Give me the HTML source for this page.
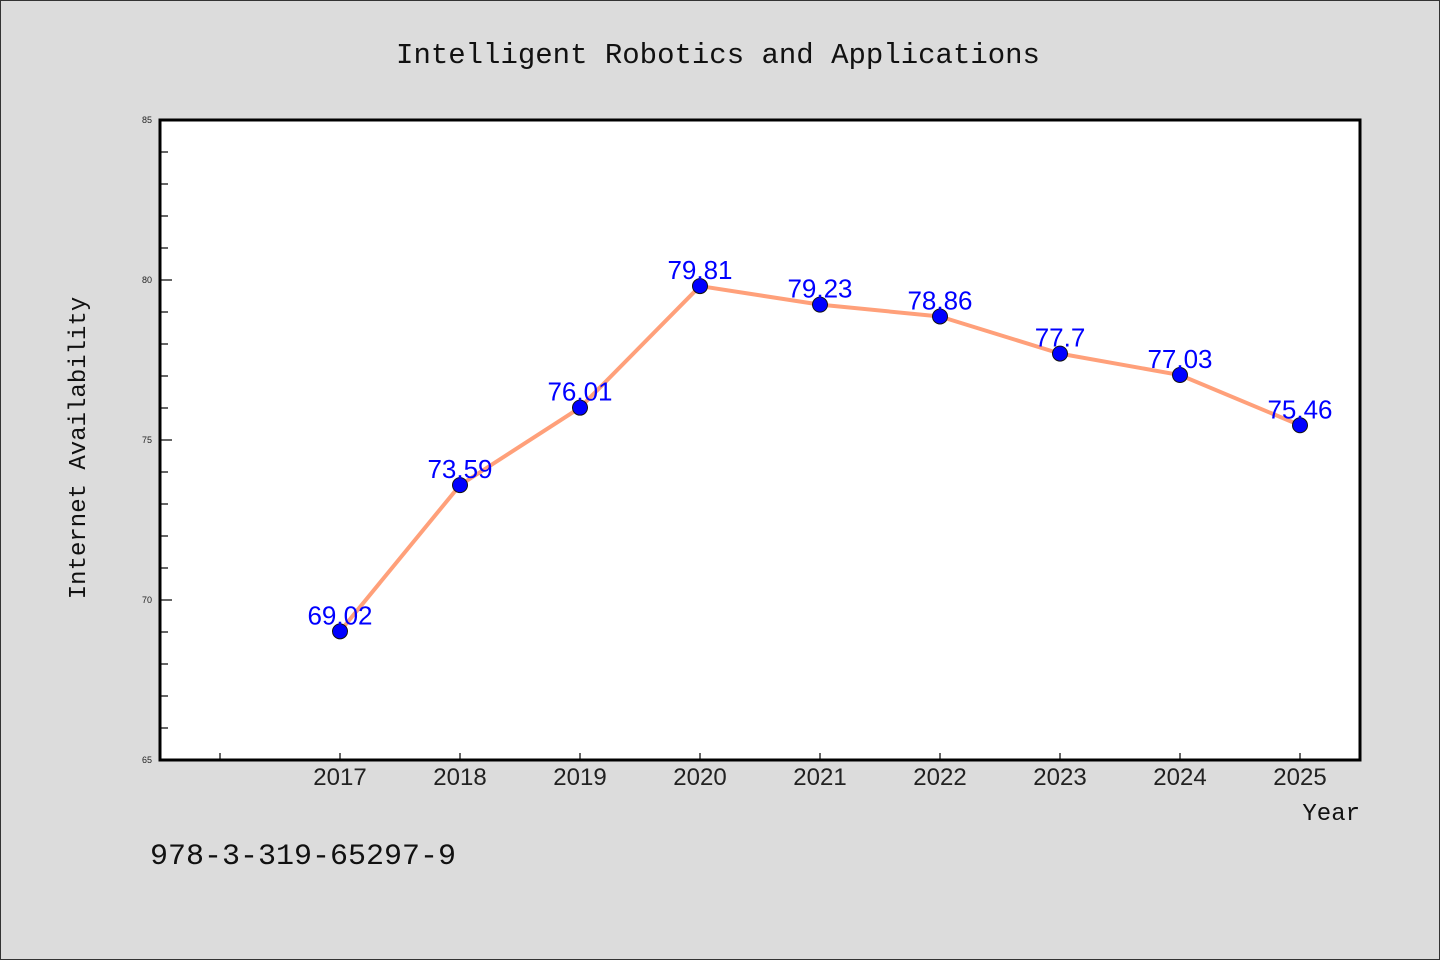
<!DOCTYPE html>
<html><head><meta charset="utf-8"><style>
body{margin:0;background:#dcdcdc;}
svg{display:block;}
</style></head><body>
<svg id="chart" width="1440" height="960" xmlns="http://www.w3.org/2000/svg">
<rect x="0.5" y="0.5" width="1439" height="959" fill="#dcdcdc" stroke="#333" stroke-width="1"/>
<text x="718" y="63" text-anchor="middle" font-family="'Liberation Mono','WenQuanYi Zen Hei',monospace" font-size="29" fill="#111">Intelligent Robotics and Applications</text>
<rect x="160" y="120" width="1200" height="640" fill="#fff" stroke="#000" stroke-width="3"/>
<g id="ticks"></g>
<text transform="translate(85,448) rotate(-90)" text-anchor="middle" font-family="'Liberation Mono','WenQuanYi Zen Hei',monospace" font-size="24" fill="#111">Internet Availability</text>
<text x="1360" y="820" text-anchor="end" font-family="'Liberation Mono','WenQuanYi Zen Hei',monospace" font-size="24" fill="#111">Year</text>
<text x="150" y="864" font-family="'Liberation Mono','WenQuanYi Zen Hei',monospace" font-size="30" fill="#111">978-3-319-65297-9</text>
<g id="series"></g>
</svg>
<script>
const years = [2017,2018,2019,2020,2021,2022,2023,2024,2025];
const values = [69.02,73.59,76.01,79.81,79.23,78.86,77.7,77.03,75.46];
const labels = ["69.02","73.59","76.01","79.81","79.23","78.86","77.7","77.03","75.46"];
const yTicks = [65,70,75,80,85];
const NS="http://www.w3.org/2000/svg";
const yMin=65,yMax=85,plotTop=120,plotBot=760,plotLeft=160;
const X=yr=>340+(yr-2017)*120;
const Y=v=>plotBot-(v-yMin)/(yMax-yMin)*(plotBot-plotTop);
function mk(t,a,p){const e=document.createElementNS(NS,t);for(const k in a)e.setAttribute(k,a[k]);p.appendChild(e);return e;}
const tk=document.getElementById('ticks');
for(let v=yMin;v<=yMax;v++){
  const major=yTicks.includes(v);
  const l=mk('line',{x1:plotLeft,x2:plotLeft+(major?12:8),y1:Y(v),y2:Y(v),stroke:'#000','stroke-width':1.2},tk);
  
  
}
yTicks.forEach(v=>{
  const t=mk('text',{x:152,y:Y(v)+3,'text-anchor':'end','font-family':'Liberation Sans,sans-serif','font-size':9,fill:'#222'},tk);
  t.textContent=v;
  
  
});
[2016].concat(years).forEach(yr=>{
  const l=mk('line',{x1:X(yr),x2:X(yr),y1:plotBot,y2:plotBot-7,stroke:'#000','stroke-width':1.2},tk);
  
  
});
years.forEach(yr=>{
  const t=mk('text',{x:X(yr),y:785,'text-anchor':'middle','font-family':'Liberation Sans,sans-serif','font-size':24,fill:'#222'},tk);
  t.textContent=yr;
  
  
});
const sg=document.getElementById('series');
const line=mk('polyline',{points:years.map((yr,i)=>X(yr)+','+Y(values[i])).join(' '),fill:'none',stroke:'#ffa07a','stroke-width':4,'stroke-linejoin':'round'},sg);


years.forEach((yr,i)=>{
  const c=mk('circle',{cx:X(yr),cy:Y(values[i]),r:7.5,fill:'#0000ff',stroke:'#111','stroke-width':1},sg);
  
  
});
years.forEach((yr,i)=>{
  const t=mk('text',{x:X(yr),y:Y(values[i])-7,'text-anchor':'middle','font-family':'Liberation Sans,sans-serif','font-size':26,fill:'#0000ff'},sg);
  t.textContent=labels[i];
  
  
});
</script>
</body></html>
